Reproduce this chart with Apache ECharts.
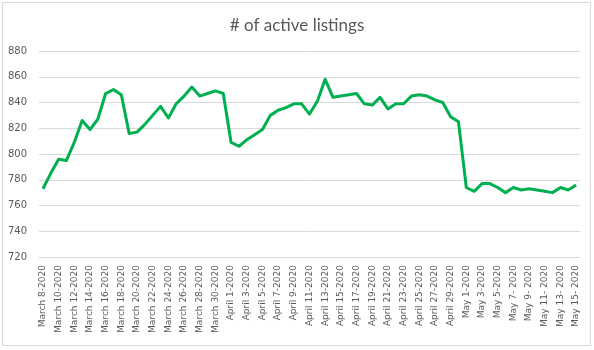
<!DOCTYPE html>
<html>
<head>
<meta charset="utf-8">
<style>
  html, body { margin: 0; padding: 0; background: #fff; }
  #frame { position: absolute; left: 2px; top: 2px; width: 589px; height: 344px; border: 1px solid #d9d9d9; box-sizing: border-box; }
  #chart { position: absolute; left: 0; top: 0; width: 594px; height: 350px; }
</style>
<script src="https://cdn.jsdelivr.net/npm/echarts@6/dist/echarts.min.js"></script>
</head>
<body>
<div id="frame"></div>
<div id="chart"></div>
<script>
// Daily dates, 8 March – 15 May 2020
const marchDays = [8,9,10,11,12,13,14,15,16,17,18,19,20,21,22,23,24,25,26,27,28,29,30,31];
const aprilDays = [1,2,3,4,5,6,7,8,9,10,11,12,13,14,15,16,17,18,19,20,21,22,23,24,25,26,27,28,29,30];
const mayDays = [1,2,3,4,5,6,7,8,9,10,11,12,13,14,15];

// Active listings per day
const activeListings = [
  773, 785, 796, 795, 809, 826, 819, 827, 847, 850, 846, 816, 817, 823, 830, 837, 828, 839, 845, 852, 845, 847, 849, 847,
  809, 806, 811, 815, 819, 830, 834, 836, 839, 839, 831, 841, 858, 844, 845, 846, 847, 839, 838, 844, 835, 839, 839, 845, 846, 845, 842, 840, 829, 825,
  774, 771, 777, 777, 774, 770, 774, 772, 773, 772, 771, 770, 774, 772, 776
];

const yTicks = { min: 720, max: 880, step: 20 };

const categories = [
  ...marchDays.map(d => 'March ' + d + '-2020'),
  ...aprilDays.map(d => 'April ' + d + '-2020'),
  ...mayDays.map(d => d >= 7 ? 'May ' + d + '- 2020' : 'May ' + d + '-2020')
];

const chart = echarts.init(document.getElementById('chart'), null, { renderer: 'canvas' });
chart.setOption({
  animation: false,
  title: {
    text: '# of active listings',
    left: 'center',
    top: 12,
    textStyle: { fontFamily: 'Lato', fontSize: 17, fontWeight: 'normal', color: '#595959' }
  },
  grid: { left: 39, right: 14, top: 51, bottom: 93, containLabel: false },
  xAxis: {
    type: 'category',
    data: categories,
    boundaryGap: true,
    axisLine: { show: true, lineStyle: { color: '#d9d9d9' } },
    axisTick: { show: false },
    axisLabel: {
      interval: 1,
      rotate: 90,
      margin: 8,
      fontFamily: 'DejaVu Sans',
      fontSize: 9,
      color: '#595959'
    }
  },
  yAxis: {
    type: 'value',
    min: yTicks.min,
    max: yTicks.max,
    interval: yTicks.step,
    axisLine: { show: false },
    axisTick: { show: false },
    splitLine: { lineStyle: { color: '#d9d9d9', width: 1 } },
    axisLabel: { margin: 12, fontFamily: 'DejaVu Sans', fontSize: 10, color: '#595959' }
  },
  series: [{
    type: 'line',
    data: activeListings,
    symbol: 'none',
    lineStyle: { color: '#00b050', width: 3, join: 'round' }
  }]
});
</script>
</body>
</html>
